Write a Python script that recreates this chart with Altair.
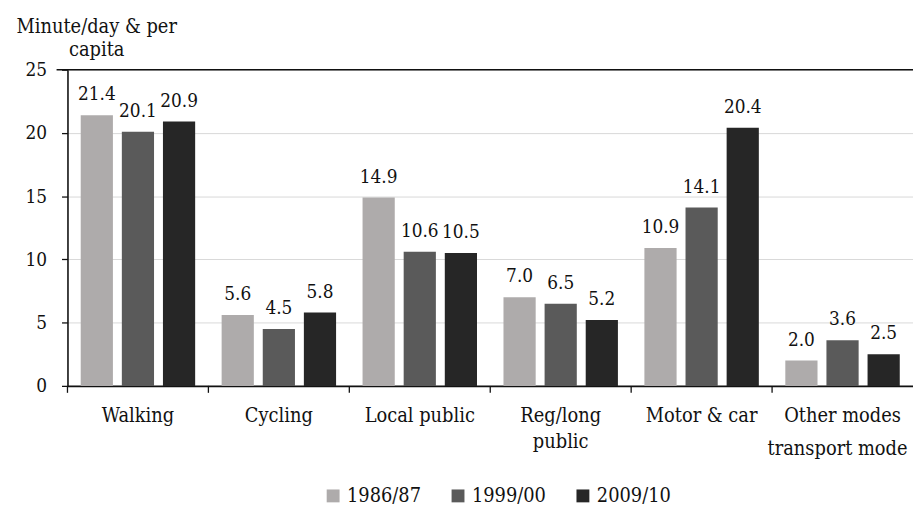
import altair as alt
import pandas as pd

categories = ["Walking", "Cycling", "Local public", "Reg/long public", "Motor & car", "Other modes"]
series = ["1986/87", "1999/00", "2009/10"]
v1986 = [21.4, 5.6, 14.9, 7.0, 10.9, 2.0]
v1999 = [20.1, 4.5, 10.6, 6.5, 14.1, 3.6]
v2009 = [20.9, 5.8, 10.5, 5.2, 20.4, 2.5]
colors = ["#AEABAB", "#5A5A5A", "#262626"]
y_ticks = [0, 5, 10, 15, 20, 25]

rows = []
for i, c in enumerate(categories):
    for s, vals in zip(series, [v1986, v1999, v2009]):
        rows.append({"mode": c, "period": s, "value": vals[i]})
df = pd.DataFrame(rows)
cat_df = pd.DataFrame({"mode": categories})
top_df = pd.DataFrame({"top": [25]})

W, H = 853, 319
FONT = "DejaVu Serif Condensed, DejaVu Serif"
BLACK = "#111111"

x_axis = alt.Axis(
    title="transport mode",
    titleAlign="right",
    titleX=W - 6,
    titleY=63,
    titleBaseline="middle",
    titleFont=FONT,
    titleFontSize=20,
    titleFontWeight="normal",
    titleColor=BLACK,
    labelFont=FONT,
    labelFontSize=20,
    labelColor=BLACK,
    labelAngle=0,
    labelPadding=20,
    labelLineHeight=26,
    labelExpr="datum.label == 'Reg/long public' ? ['Reg/long', 'public'] : datum.label",
    ticks=False,
    domainColor=BLACK,
    domainWidth=1.6,
    grid=False,
)

x_scale = alt.Scale(paddingInner=0, paddingOuter=0)
y_scale = alt.Scale(domain=[0, 25], nice=False)

y_axis = alt.Axis(
    values=y_ticks,
    title=["Minute/day & per", "capita"],
    titleAngle=0,
    titleAlign="center",
    titleBaseline="middle",
    titleX=29,
    titleY=-43,
    titleLineHeight=23,
    titleFont=FONT,
    titleFontSize=20,
    titleFontWeight="normal",
    titleColor=BLACK,
    labelFont=FONT,
    labelFontSize=19,
    labelColor=BLACK,
    labelPadding=15,
    tickSize=6,
    tickColor=BLACK,
    tickWidth=1.3,
    domainColor=BLACK,
    domainWidth=1.6,
    grid=True,
    gridColor="#D9D9D9",
    gridWidth=1,
)

xoff = alt.XOffset("period:N", sort=series,
                   scale=alt.Scale(paddingInner=0.217, paddingOuter=0.322))

bars = alt.Chart(df).mark_bar().encode(
    x=alt.X("mode:N", sort=categories, scale=x_scale, axis=x_axis),
    xOffset=xoff,
    y=alt.Y("value:Q", scale=y_scale, axis=y_axis),
    color=alt.Color(
        "period:N",
        sort=series,
        scale=alt.Scale(domain=series, range=colors),
        legend=alt.Legend(
            title=None,
            orient="none",
            legendX=258,
            legendY=420,
            direction="horizontal",
            symbolType="square",
            symbolSize=169,
            symbolStrokeWidth=0,
            symbolOpacity=1,
            labelFont=FONT,
            labelFontSize=20,
            labelColor=BLACK,
            labelOffset=4,
            columnPadding=27,
        ),
    ),
)

labels = alt.Chart(df).mark_text(
    font=FONT, fontSize=19, color=BLACK, baseline="alphabetic", dy=-15
).encode(
    x=alt.X("mode:N", sort=categories, scale=x_scale, axis=x_axis),
    xOffset=xoff,
    y=alt.Y("value:Q", scale=y_scale, axis=y_axis),
    text=alt.Text("value:Q", format=".1f"),
)

ticks = alt.Chart(cat_df).mark_rule(color=BLACK, strokeWidth=1.3).encode(
    x=alt.X("mode:N", sort=categories, scale=x_scale, axis=x_axis, bandPosition=0),
    y=alt.value(H),
    y2=alt.value(H + 7),
)

top_line = alt.Chart(top_df).mark_rule(color=BLACK, strokeWidth=1.6).encode(
    x=alt.value(-11),
    x2=alt.value(W),
    y=alt.Y("top:Q", scale=y_scale, axis=y_axis),
)

chart = alt.layer(bars, labels, ticks, top_line).properties(
    width=W,
    height=H,
    autosize=alt.AutoSizeParams(type="none"),
    padding={"left": 60, "top": 60, "right": 0, "bottom": 123},
).configure_view(stroke=None)

chart.save("out.html", embed_options={"renderer": "svg", "actions": False})
